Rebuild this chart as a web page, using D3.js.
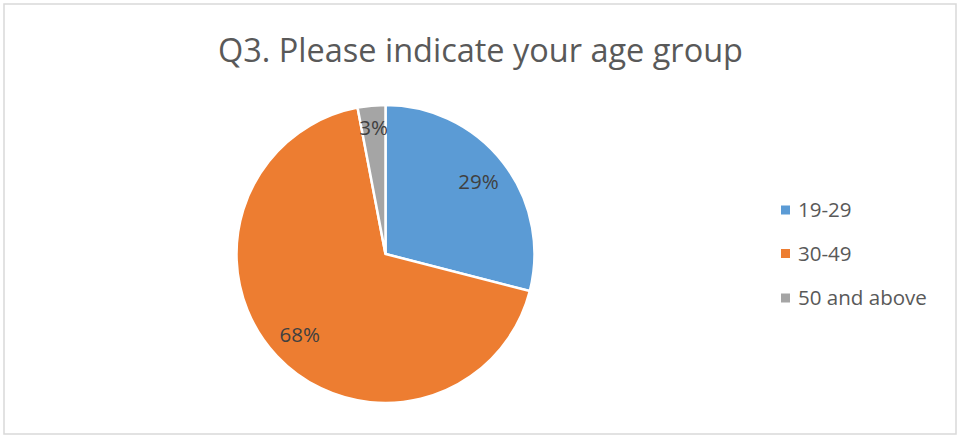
<!DOCTYPE html>
<html>
<head>
<meta charset="utf-8">
<script src="https://cdn.jsdelivr.net/npm/d3@7"></script>
<style>
html,body{margin:0;padding:0;background:#fff;}
svg{display:block;}
text{font-family:"Open Sans","Noto Sans",sans-serif;}
</style>
</head>
<body>
<svg id="chart" width="962" height="441"></svg>
<script>
const title = "Q3. Please indicate your age group";
const categories = ["19-29", "30-49", "50 and above"];
const values = [29, 68, 3];
const colors = ["#5b9bd5", "#ed7d31", "#a5a5a5"];

const svg = d3.select("#chart");
const W = 962, H = 441;

svg.append("rect").attr("x", 4).attr("y", 4).attr("width", 952).attr("height", 430)
  .attr("fill", "#fff").attr("stroke", "#d9d9d9").attr("stroke-width", 1.5);

// fit text to target width
function fit(sel, target) {
  const w = sel.node().getComputedTextLength();
  const fs = parseFloat(sel.attr("font-size"));
  sel.attr("font-size", fs * target / w);
}

const t = svg.append("text").attr("x", 480.5).attr("y", 62).attr("text-anchor", "middle")
  .attr("font-size", 28).attr("fill", "#595959").text(title);
fit(t, 525);

const cx = 385.5, cy = 254, r = 149;
const pie = d3.pie().sort(null).value(d => d)(values);
const arc = d3.arc().innerRadius(0).outerRadius(r);
const g = svg.append("g").attr("transform", `translate(${cx},${cy})`);
g.selectAll("path").data(pie).join("path")
  .attr("d", arc).attr("fill", (d, i) => colors[i])
  .attr("stroke", "#fff").attr("stroke-width", 2.5).attr("stroke-linejoin", "miter");

const total = d3.sum(values);
const labelArc = d => {
  const frac = (d.endAngle - d.startAngle) / (2 * Math.PI);
  const rr = frac < 0.05 ? r * 0.85 : r * 0.79;
  return d3.arc().innerRadius(rr).outerRadius(rr).centroid(d);
};
g.selectAll("text.lbl").data(pie).join("text").attr("class", "lbl")
  .attr("transform", d => `translate(${labelArc(d)})`)
  .attr("text-anchor", "middle").attr("dy", "0.35em")
  .attr("font-size", 18).attr("fill", "#404040")
  .text(d => Math.round(d.data / total * 100) + "%");

const leg = svg.append("g");
const ys = [210, 253.5, 298];
const items = leg.selectAll("g").data(categories).join("g")
  .attr("transform", (d, i) => `translate(781,${ys[i]})`);
items.append("rect").attr("x", 0).attr("y", -4.5).attr("width", 9).attr("height", 9)
  .attr("fill", (d, i) => colors[i]);
const lt = items.append("text").attr("x", 17).attr("dy", "0.35em")
  .attr("font-size", 18).attr("fill", "#595959").text(d => d);
const lastW = lt.nodes()[2].getComputedTextLength();
const lfs = 18 * 129 / lastW;
lt.attr("font-size", lfs);
g.selectAll("text.lbl").attr("font-size", lfs);
</script>
</body>
</html>
